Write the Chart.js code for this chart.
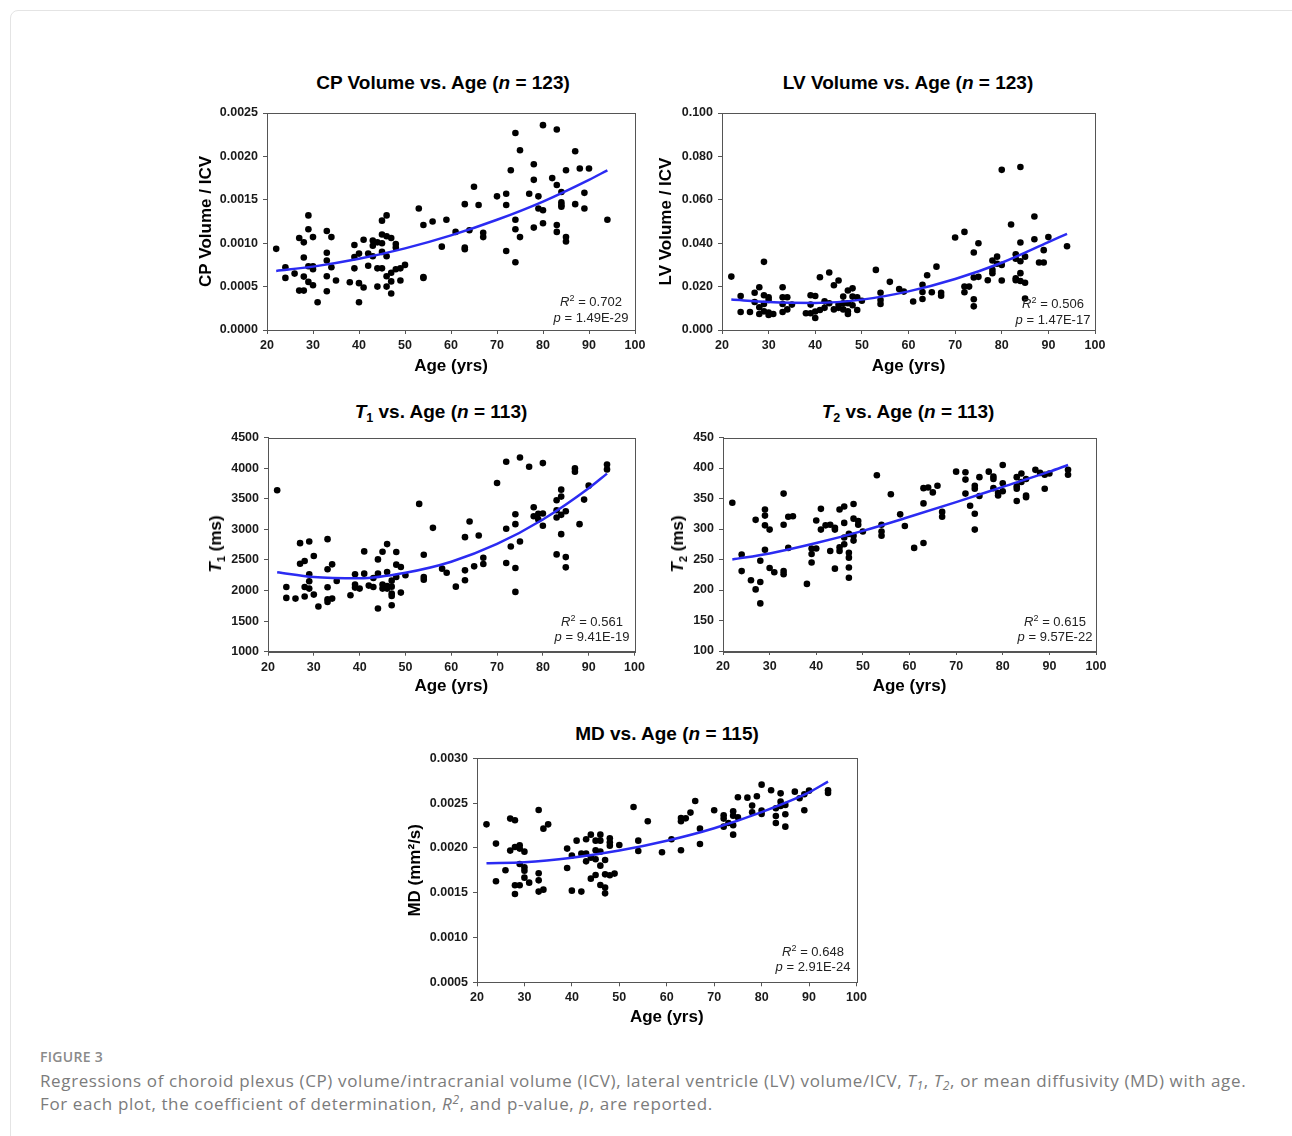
<!DOCTYPE html>
<html>
<head>
<meta charset="utf-8">
<script src="https://cdn.jsdelivr.net/npm/chart.js@4.4.1/dist/chart.umd.min.js"></script>
<style>
  body { margin: 0; background: #fff; }
  #page { position: relative; width: 1292px; height: 1136px; overflow: hidden; font-family: 'Liberation Sans', Arial, sans-serif; }
  .card { position: absolute; left: 10px; top: 10px; width: 1300px; height: 1140px; border: 1px solid #e4e4e4; border-radius: 8px; }
  canvas { position: absolute; }
  .ttl { position: absolute; transform: translate(-50%, -50%); font: bold 19px 'Liberation Sans', Arial, sans-serif; color: #000; white-space: nowrap; line-height: 22px; }
  .ttl sub { font-size: 12.5px; vertical-align: -4px; line-height: 0; }
  .st { position: absolute; transform: translate(-50%, -50%); font: 13px 'Liberation Sans', Arial, sans-serif; color: #222; white-space: nowrap; line-height: 16px; }
  .st sup { font-size: 9px; vertical-align: 5px; line-height: 0; }
  .yt { position: absolute; transform: translate(-50%, -50%) rotate(-90deg); font: bold 17px 'Liberation Sans', Arial, sans-serif; color: #000; white-space: nowrap; line-height: 20px; }
  .yt sub { font-size: 11px; vertical-align: -4px; line-height: 0; }
  .fig { position: absolute; left: 40px; top: 1047px; font: 600 14px 'Open Sans', sans-serif; color: #8a8a8a; letter-spacing: 0.3px; }
  .cap { position: absolute; left: 40px; top: 1069px; font: 17px 'Open Sans', sans-serif; color: #7b7b7b; line-height: 23px; white-space: nowrap; letter-spacing: 0.62px; }
  .cap sub { font-size: 12px; vertical-align: -3px; line-height: 0; }
  .cap sup { font-size: 12px; vertical-align: 6px; line-height: 0; }
</style>
</head>
<body>
<div id="page">
  <div class="card"></div>

  <div class="ttl" style="left:443px;top:83px">CP Volume vs. Age (<i>n</i> = 123)</div>
  <div class="ttl" style="left:908px;top:83px">LV Volume vs. Age (<i>n</i> = 123)</div>
  <div class="ttl" style="left:441px;top:412px"><i>T</i><sub>1</sub> vs. Age (<i>n</i> = 113)</div>
  <div class="ttl" style="left:908px;top:412px"><i>T</i><sub>2</sub> vs. Age (<i>n</i> = 113)</div>
  <div class="ttl" style="left:667px;top:734px">MD vs. Age (<i>n</i> = 115)</div>

  <canvas id="cp" width="460" height="290" style="left:190px;top:100px"></canvas>
  <canvas id="lv" width="470" height="290" style="left:645px;top:100px"></canvas>
  <canvas id="t1" width="460" height="290" style="left:190px;top:425px"></canvas>
  <canvas id="t2" width="470" height="290" style="left:645px;top:425px"></canvas>
  <canvas id="md" width="480" height="290" style="left:395px;top:745px"></canvas>

  <div class="yt" style="left:216px;top:544px"><i>T</i><sub>1</sub> (ms)</div>
  <div class="yt" style="left:678px;top:544px"><i>T</i><sub>2</sub> (ms)</div>

  <div class="st" style="left:591px;top:302px"><i>R</i><sup>2</sup> = 0.702</div>
  <div class="st" style="left:591px;top:318px"><i>p</i> = 1.49E-29</div>
  <div class="st" style="left:1053px;top:304px"><i>R</i><sup>2</sup> = 0.506</div>
  <div class="st" style="left:1053px;top:320px"><i>p</i> = 1.47E-17</div>
  <div class="st" style="left:592px;top:622px"><i>R</i><sup>2</sup> = 0.561</div>
  <div class="st" style="left:592px;top:637px"><i>p</i> = 9.41E-19</div>
  <div class="st" style="left:1055px;top:622px"><i>R</i><sup>2</sup> = 0.615</div>
  <div class="st" style="left:1055px;top:637px"><i>p</i> = 9.57E-22</div>
  <div class="st" style="left:813px;top:952px"><i>R</i><sup>2</sup> = 0.648</div>
  <div class="st" style="left:813px;top:967px"><i>p</i> = 2.91E-24</div>

  <div class="fig">FIGURE 3</div>
  <div class="cap">Regressions of choroid plexus (CP) volume/intracranial volume (ICV), lateral ventricle (LV) volume/ICV, <i>T<sub>1</sub></i>, <i>T<sub>2</sub></i>, or mean diffusivity (MD) with age.<br>For each plot, the coefficient of determination, <i>R<sup>2</sup></i>, and p-value, <i>p</i>, are reported.</div>
</div>

<script>
const fitAge = [22, 30, 40, 50, 60, 70, 80, 90, 94];

// CP volume / ICV
const cpAge = [22,24,24,26,27,27,28,28,28,28,29,29,29,29,30,30,30,30,31,33,33,33,33,33,34,34,35,38,39,39,39,40,40,40,41,41,42,42,43,43,43,44,44,44,45,45,45,45,45,46,46,46,46,46,47,47,47,47,48,48,48,49,49,50,53,54,54,54,56,58,59,61,63,63,63,64,65,66,67,67,70,72,72,72,73,74,74,74,74,75,75,77,78,78,78,79,79,80,80,80,82,83,83,83,83,84,84,84,84,85,85,85,87,87,88,89,89,90,94];
const cpVal = [0.000935,0.000723,0.0006,0.00065,0.000454,0.00106,0.00101,0.000835,0.000615,0.000454,0.00132,0.00116,0.000735,0.000554,0.00107,0.000735,0.0007,0.000515,0.00032,0.00114,0.00089,0.0008,0.00062,0.000446,0.00107,0.000723,0.00057,0.00055,0.00098,0.00084,0.00071,0.00088,0.00054,0.00032,0.00104,0.00049,0.00088,0.00074,0.00103,0.00097,0.00085,0.00101,0.00071,0.0005,0.00126,0.0011,0.001,0.0009,0.00071,0.00132,0.00108,0.00085,0.00062,0.0005,0.00106,0.00066,0.00056,0.00042,0.00099,0.00095,0.0007,0.00071,0.00057,0.00075,0.0014,0.00121,0.00061,0.0006,0.00125,0.00096,0.00127,0.00113,0.00145,0.00095,0.00093,0.00115,0.00165,0.00144,0.00112,0.00107,0.00154,0.00157,0.00144,0.00091,0.00184,0.00227,0.00127,0.00116,0.00078,0.00207,0.00107,0.00157,0.00191,0.00173,0.00118,0.00154,0.0014,0.00236,0.00138,0.00123,0.00175,0.00231,0.00167,0.00121,0.00113,0.00159,0.00147,0.00144,0.00142,0.00184,0.00107,0.00102,0.00206,0.00145,0.00186,0.00158,0.0014,0.00186,0.00127];
const cpFit = [0.00068,0.00073,0.00082,0.00094,0.00109,0.00127,0.00148,0.00173,0.00184];

// LV volume / ICV
const lvAge = [22,24,24,26,27,27,28,28,28,29,29,29,29,30,30,30,30,31,33,33,33,33,34,34,35,38,39,39,39,40,40,40,41,41,42,42,43,43,44,44,45,45,45,46,46,46,47,47,47,47,48,48,48,49,49,50,53,54,54,54,56,58,59,61,63,63,63,64,65,66,67,67,70,72,72,72,73,74,74,74,74,75,75,77,78,78,78,79,79,80,80,80,82,83,83,83,83,84,84,84,84,84,85,85,85,87,87,88,89,89,90,94];
const lvVal = [0.0246,0.0157,0.0083,0.0083,0.0172,0.0129,0.0197,0.0105,0.0074,0.0314,0.016,0.012,0.0086,0.0151,0.0138,0.008,0.0069,0.0074,0.0197,0.0151,0.012,0.0083,0.0151,0.0095,0.0117,0.0077,0.016,0.0117,0.0077,0.0157,0.0085,0.0055,0.0243,0.0092,0.0132,0.0102,0.0265,0.0123,0.0206,0.0095,0.0228,0.0117,0.0102,0.0154,0.0123,0.0095,0.0182,0.0123,0.0086,0.0074,0.0192,0.0154,0.0114,0.0151,0.0092,0.0135,0.0277,0.0172,0.0138,0.012,0.0222,0.0189,0.0177,0.0131,0.0208,0.0175,0.0143,0.0252,0.0174,0.0292,0.0172,0.0158,0.0426,0.0452,0.02,0.0174,0.02,0.0357,0.0242,0.0142,0.0109,0.04,0.0245,0.0229,0.032,0.0277,0.0262,0.0338,0.0305,0.0738,0.03,0.0228,0.0486,0.0349,0.0328,0.0238,0.0229,0.0751,0.0403,0.0317,0.0262,0.0226,0.0338,0.0218,0.0145,0.0523,0.0418,0.0311,0.0368,0.0311,0.0428,0.0386];
const lvFit = [0.0140,0.0129,0.0125,0.0140,0.0178,0.0235,0.0310,0.0405,0.0443];

// T1 (ms)
const t1Age = [22,24,24,26,27,27,28,28,28,29,29,29,29,30,30,31,33,33,33,33,33,34,34,35,38,39,39,39,40,41,41,42,43,43,44,44,44,45,45,45,46,46,46,46,47,47,47,47,47,48,48,48,49,49,50,53,54,54,54,56,58,59,61,63,63,63,64,65,66,67,67,70,72,72,72,73,74,74,74,74,75,75,77,78,78,79,79,80,80,80,83,83,83,83,84,84,84,84,85,85,85,87,87,88,89,90,94,94];
const t1Val = [3637,2058,1879,1868,2774,2438,2481,2058,1901,2801,2264,2150,2031,2563,1933,1738,2839,2346,2053,1857,1814,2427,1868,2156,1922,2264,2096,2047,2031,2639,2275,2080,2205,2058,2508,2275,1705,2633,2096,2031,2758,2302,2074,2031,2161,2063,1950,1912,1760,2628,2422,2221,2384,1966,2248,3415,2584,2221,2177,3024,2357,2291,2063,2872,2329,2167,3127,2395,2899,2536,2432,3756,4104,3008,2449,2720,3246,3084,2367,1977,4174,2801,4022,3360,3214,3252,3160,4082,3257,3057,3474,3311,3192,2590,3648,3534,3236,2921,3295,2546,2378,3995,3941,3084,3485,3713,4060,3979];
const t1Fit = [2300,2220,2200,2290,2470,2760,3160,3670,3910];

// T2 (ms)
const t2Age = [22,24,24,26,27,27,28,28,28,29,29,29,29,30,30,31,33,33,33,33,34,34,35,38,39,39,39,40,40,41,41,42,43,43,44,44,44,45,45,45,46,46,46,46,47,47,47,47,47,48,48,48,48,49,49,50,53,54,54,54,56,58,59,61,63,63,63,64,65,66,67,67,70,72,72,72,73,74,74,74,74,75,75,77,78,78,78,79,79,80,80,80,83,83,83,83,84,84,85,85,85,87,88,89,89,90,94,94];
const t2Val = [343,258,231,216,315,201,248,213,178,332,322,306,266,299,236,229,358,307,231,226,320,269,321,210,268,259,245,314,268,333,299,306,307,264,302,299,235,332,270,264,337,310,286,275,292,261,253,237,220,341,317,289,281,313,307,296,388,307,296,289,357,324,305,269,367,342,277,368,360,371,328,320,394,393,381,358,338,371,366,325,299,385,354,394,386,382,367,359,355,405,375,362,385,370,366,346,391,377,382,355,352,397,392,389,366,391,397,389];
const t2Fit = [250,260,277,297,320,344,369,394,405];

// MD (mm²/s)
const mdAge = [22,24,24,26,27,27,28,28,28,28,29,29,29,29,30,30,30,30,31,33,33,33,33,34,34,35,39,39,40,40,41,42,42,43,43,43,44,44,44,45,45,45,45,46,46,46,46,46,47,47,47,47,48,48,48,48,49,50,53,54,54,56,59,61,63,63,63,64,65,66,67,67,70,72,72,72,73,74,74,74,74,75,75,77,78,78,79,80,80,80,82,83,83,83,84,84,84,85,85,85,87,88,89,89,90,94,94];
const mdVal = [0.002263,0.002048,0.001627,0.00175,0.002327,0.00197,0.002308,0.00201,0.001583,0.001486,0.002029,0.001992,0.001821,0.001583,0.001958,0.001783,0.001746,0.001668,0.001612,0.002423,0.001717,0.001638,0.001512,0.002215,0.001534,0.002263,0.001992,0.001776,0.001914,0.001523,0.002081,0.001936,0.001512,0.002096,0.001936,0.00185,0.002148,0.001891,0.001657,0.002081,0.001973,0.001873,0.001698,0.002148,0.002081,0.001958,0.001802,0.001586,0.001865,0.001705,0.001557,0.001493,0.002107,0.002062,0.002025,0.001694,0.001713,0.002033,0.002457,0.002081,0.001966,0.002297,0.001951,0.002096,0.002334,0.002297,0.001973,0.00233,0.002394,0.002524,0.002215,0.002044,0.00242,0.002364,0.002327,0.002237,0.002278,0.002408,0.00236,0.002252,0.002148,0.002565,0.002341,0.002561,0.002472,0.002397,0.002576,0.002706,0.002416,0.002379,0.002643,0.002442,0.002356,0.002278,0.002609,0.002516,0.002468,0.002479,0.002375,0.002237,0.002628,0.002554,0.002598,0.00242,0.002639,0.002643,0.002613];
const mdFit = [0.00183,0.00184,0.00189,0.00197,0.00208,0.00222,0.0024,0.00262,0.00274];

const AXIS = '#555';
const BLUE = '#2b2bf2';
Chart.defaults.font.family = "'Liberation Sans', Arial, sans-serif";

function pts(xs, ys) {
  return xs.map((x, i) => ({ x: x, y: ys[i] }));
}

// draws the top and right sides of the plot box
const frame = {
  id: 'frame',
  afterDraw(chart) {
    const a = chart.chartArea, ctx = chart.ctx;
    ctx.save();
    ctx.strokeStyle = AXIS;
    ctx.lineWidth = 1;
    ctx.strokeRect(Math.round(a.left) + 0.5, Math.round(a.top) + 0.5, Math.round(a.width), Math.round(a.height));
    ctx.restore();
  }
};

function makeChart(id, o) {
  const tickFont = { size: 12.5, weight: 'bold' };
  return new Chart(document.getElementById(id), {
    type: 'scatter',
    data: {
      datasets: [
        { data: pts(fitAge, o.fit), showLine: true, pointRadius: 0, borderColor: BLUE, borderWidth: 2.5,
          cubicInterpolationMode: 'monotone', order: 1 },
        { data: pts(o.age, o.val), pointRadius: 3.3, backgroundColor: '#000', borderColor: '#000',
          borderWidth: 0, order: 2 }
      ]
    },
    options: {
      responsive: false,
      animation: false,
      events: [],
      layout: { padding: o.pad },
      plugins: { legend: { display: false }, tooltip: { enabled: false } },
      scales: {
        x: {
          type: 'linear', min: 20, max: 100,
          ticks: { stepSize: 10, font: tickFont, color: '#1a1a1a', padding: 4 },
          grid: { drawOnChartArea: false, tickLength: 4, color: AXIS },
          border: { color: AXIS },
          title: { display: true, text: 'Age (yrs)', color: '#000', font: { size: 17, weight: 'bold' },
                   padding: { top: 0, bottom: o.xTitlePad } },
          afterFit(s) { s.height = o.xH; }
        },
        y: {
          type: 'linear', min: o.min, max: o.max,
          ticks: { stepSize: o.step, font: tickFont, color: '#1a1a1a', padding: 5,
                   callback: v => v.toFixed(o.dec) },
          grid: { drawOnChartArea: false, tickLength: 4, color: AXIS },
          border: { color: AXIS },
          title: { display: !!o.yTitle, text: o.yTitle || '', color: '#000', font: { size: 17, weight: 'bold' },
                   padding: { top: o.yTitlePad || 0, bottom: 0 } },
          afterFit(s) { s.width = o.yW; }
        }
      }
    },
    plugins: [frame]
  });
}

makeChart('cp', { age: cpAge, val: cpVal, fit: cpFit, min: 0, max: 0.0025, step: 0.0005, dec: 4,
  yTitle: 'CP Volume / ICV', yTitlePad: 6.3, yW: 77, xH: 60, xTitlePad: 13.3,
  pad: { top: 13, right: 15, left: 0, bottom: 0 } });
makeChart('lv', { age: lvAge, val: lvVal, fit: lvFit, min: 0, max: 0.1, step: 0.02, dec: 3,
  yTitle: 'LV Volume / ICV', yTitlePad: 11.5, yW: 77, xH: 60, xTitlePad: 13.3,
  pad: { top: 13, right: 20, left: 0, bottom: 0 } });
makeChart('t1', { age: t1Age, val: t1Val, fit: t1Fit, min: 1000, max: 4500, step: 500, dec: 0,
  yTitle: '', yW: 78, xH: 63.3, xTitlePad: 18.8,
  pad: { top: 11.7, right: 15.5, left: 0, bottom: 0 } });
makeChart('t2', { age: t2Age, val: t2Val, fit: t2Fit, min: 100, max: 450, step: 50, dec: 0,
  yTitle: '', yW: 78, xH: 64, xTitlePad: 18.8,
  pad: { top: 11.7, right: 19, left: 0, bottom: 0 } });
makeChart('md', { age: mdAge, val: mdVal, fit: mdFit, min: 0.0005, max: 0.003, step: 0.0005, dec: 4,
  yTitle: 'MD (mm²/s)', yTitlePad: 10.3, yW: 82, xH: 52.7, xTitlePad: 7.8,
  pad: { top: 13.3, right: 18.5, left: 0, bottom: 0 } });
</script>
</body>
</html>
